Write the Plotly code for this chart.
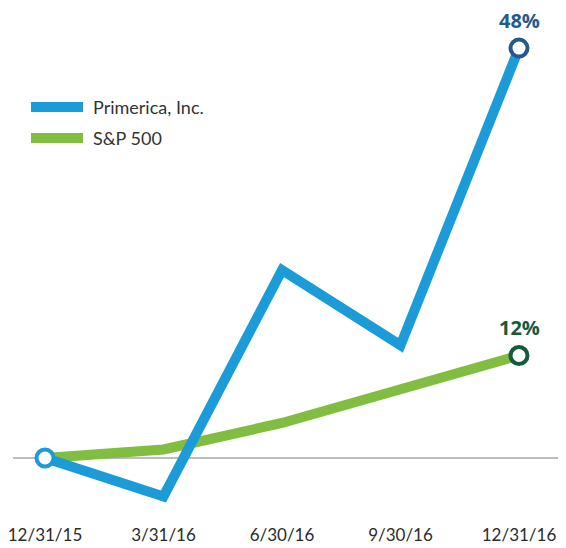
import plotly.graph_objects as go

dates = ["12/31/15", "3/31/16", "6/30/16", "9/30/16", "12/31/16"]
primerica = [0, -4.5, 22, 13.2, 48]
sp500 = [0, 1, 4.1, 8, 12]
series_names = ["Primerica, Inc.", "S&P 500"]

BLUE = "#1b9bd7"
GREEN = "#80bd41"
DARK_BLUE = "#235a8c"
DARK_GREEN = "#155a3c"

# page body has an 8px margin; work in figure coordinates (screen - 8)
OFF = 8
W, H = 566 - OFF, 548 - OFF
L, R, T, B = 13 - OFF, 9 - OFF, 0, 40
x0_px, dx_px = 45 - OFF, 118.5
zero_px, dy_px = 458 - OFF, 8.54

plot_w = W - L - R
plot_h = H - T - B
xr = [-(x0_px - L) / dx_px, (W - R - x0_px) / dx_px]
yr = [-(H - B - zero_px) / dy_px, (zero_px - T) / dy_px]

xi = list(range(len(dates)))

fig = go.Figure()
fig.add_trace(go.Scatter(x=xi, y=sp500, mode="lines",
                         line=dict(color=GREEN, width=10), name=series_names[1],
                         showlegend=False, hoverinfo="skip", cliponaxis=False))
fig.add_trace(go.Scatter(x=xi, y=primerica, mode="lines",
                         line=dict(color=BLUE, width=10), name=series_names[0],
                         showlegend=False, hoverinfo="skip", cliponaxis=False))
# endpoint markers
for vals, col in [(sp500, DARK_GREEN), (primerica, DARK_BLUE)]:
    fig.add_trace(go.Scatter(x=[xi[-1]], y=[vals[-1]], mode="markers",
                             marker=dict(size=17, color="white", line=dict(color=col, width=4)),
                             showlegend=False, hoverinfo="skip", cliponaxis=False))
    fig.add_annotation(x=xi[-1], y=vals[-1], text=f"<b>{vals[-1]:.0f}%</b>",
                       showarrow=False, yshift=28, borderpad=0,
                       font=dict(family="Open Sans", size=20, color=col))
fig.add_trace(go.Scatter(x=[xi[0]], y=[primerica[0]], mode="markers",
                         marker=dict(size=17, color="white", line=dict(color=BLUE, width=4)),
                         showlegend=False, hoverinfo="skip", cliponaxis=False))

# manual legend
legend_items = [(series_names[0], BLUE, 107 - OFF), (series_names[1], GREEN, 138 - OFF)]
for name, col, ypx in legend_items:
    yp = 1 - (ypx - T) / plot_h
    fig.add_shape(type="line", xref="paper", yref="paper",
                  x0=(31 - OFF - L) / plot_w, x1=(83 - OFF - L) / plot_w, y0=yp, y1=yp,
                  line=dict(color=col, width=10))
    fig.add_annotation(xref="paper", yref="paper", x=(91 - OFF - L) / plot_w, y=yp,
                       text=name, showarrow=False, xanchor="left", yanchor="middle",
                       font=dict(family="Lato", size=18, color="#333333"))

fig.update_layout(
    width=W, height=H,
    margin=dict(l=L, r=R, t=T, b=B, autoexpand=False),
    paper_bgcolor="white", plot_bgcolor="white",
    font=dict(family="Lato", color="#333333"),
    xaxis=dict(range=xr, tickmode="array", tickvals=xi, ticktext=dates,
               showgrid=False, zeroline=False, showline=False, ticks="",
               automargin=False, ticklabelstandoff=15, ticklabeloverflow="allow",
               tickfont=dict(family="Lato", size=17, color="#2b2b2b"),
               fixedrange=True),
    yaxis=dict(range=yr, showgrid=False, zeroline=True, zerolinecolor="#bdbdbd",
               zerolinewidth=2, showticklabels=False, showline=False,
               automargin=False, fixedrange=True),
)

fig.write_html("out.html")
